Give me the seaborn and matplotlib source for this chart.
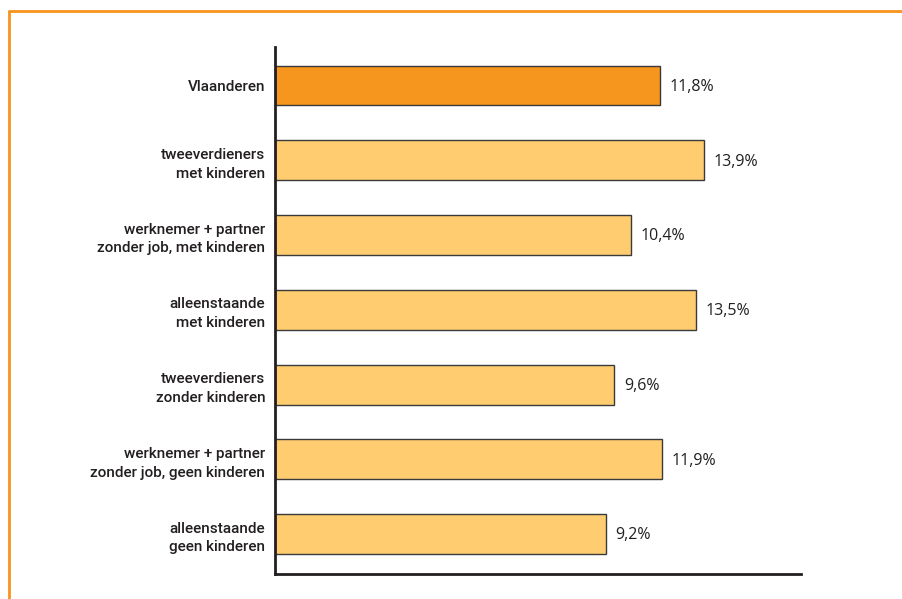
import matplotlib
matplotlib.use("Agg")
import matplotlib.pyplot as plt
from matplotlib.lines import Line2D
import seaborn as sns
import pandas as pd

# Gezinstypes en percentages
categories = [
    "Vlaanderen",
    "tweeverdieners\nmet kinderen",
    "werknemer + partner\nzonder job, met kinderen",
    "alleenstaande\nmet kinderen",
    "tweeverdieners\nzonder kinderen",
    "werknemer + partner\nzonder job, geen kinderen",
    "alleenstaande\ngeen kinderen",
]
values = [11.8, 13.9, 10.4, 13.5, 9.6, 11.9, 9.2]
value_labels = ["11,8%", "13,9%", "10,4%", "13,5%", "9,6%", "11,9%", "9,2%"]

ORANGE = "#F7961E"
LIGHT = "#FFCD70"
INK = "#231F20"

sns.set_theme(style="white")
plt.rcParams["font.family"] = ["DejaVu Sans"]

df = pd.DataFrame({"cat": categories, "val": values})
palette = [ORANGE] + [LIGHT] * (len(categories) - 1)

fig = plt.figure(figsize=(9.02, 5.99), dpi=100)
ax = fig.add_axes([275 / 902, 1 - 574 / 599, (801 - 275) / 902, (574 - 47) / 599])

sns.barplot(data=df, x="val", y="cat", hue="cat", palette=palette, legend=False,
            saturation=1, width=0.535, edgecolor="#3a3a3a", linewidth=1.0, ax=ax)

# Axis baseline sits below zero, bars start at the axis edge
x_start = -6.67
x_end = 18.56
for patch, v in zip(ax.patches, values):
    patch.set_x(x_start)
    patch.set_width(v - x_start)
ax.set_xlim(x_start, x_end)
ax.set_ylim(len(categories) - 0.465, -0.515)

for i, (v, lab) in enumerate(zip(values, value_labels)):
    ax.annotate(lab, xy=(v, i), xytext=(7, -1), textcoords="offset points",
                ha="left", va="center", fontsize=11.5, color=INK,
                family=["Open Sans", "DejaVu Sans"])

ax.set_xlabel("")
ax.set_ylabel("")
ax.set_xticks([])
ax.tick_params(axis="y", length=0, pad=7)
for t in ax.get_yticklabels():
    t.set_fontfamily(["Roboto", "DejaVu Sans"])
    t.set_fontsize(11)
    t.set_fontweight("medium")
    t.set_color(INK)
    t.set_linespacing(1.45)
    t.set_multialignment("right")

for side in ["top", "right"]:
    ax.spines[side].set_visible(False)
for side in ["left", "bottom"]:
    ax.spines[side].set_color(INK)
    ax.spines[side].set_linewidth(2)

# Oranje kader boven en links
fig.add_artist(Line2D([8.5 / 902, 1.0], [1 - 10.5 / 599] * 2, color="#F7941D",
                      linewidth=2, transform=fig.transFigure))
fig.add_artist(Line2D([8.5 / 902] * 2, [0.0, 1 - 10.5 / 599], color="#F7941D",
                      linewidth=2, transform=fig.transFigure))

fig.savefig("out.png", dpi=100, facecolor="white")
